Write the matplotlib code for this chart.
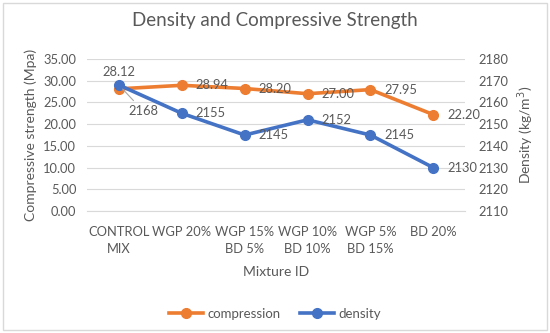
import matplotlib
matplotlib.use('Agg')
import matplotlib.pyplot as plt
from matplotlib.patches import Rectangle

plt.rcParams['font.family'] = ['Lato', 'DejaVu Sans']

#data
mixtures = ['CONTROL\nMIX', 'WGP 20%', 'WGP 15%\nBD 5%', 'WGP 10%\nBD 10%', 'WGP 5%\nBD 15%', 'BD 20%']
compression = [28.12, 28.94, 28.20, 27.00, 27.95, 22.20]
density = [2168, 2155, 2145, 2152, 2145, 2130]
left_ticks = [0, 5, 10, 15, 20, 25, 30, 35]
right_ticks = [2110, 2120, 2130, 2140, 2150, 2160, 2170, 2180]

orange = '#ED7D31'
blue = '#4472C4'
txt = '#595959'
grid = '#D9D9D9'
fs = 9.3

fig = plt.figure(figsize=(5.5, 3.33), dpi=100)
ax = fig.add_axes([0.159, 0.366, 0.686, 0.457])
ax2 = ax.twinx()

x = list(range(len(mixtures)))

#compression on left axis
l1, = ax.plot(x, compression, color=orange, lw=2.6, marker='o', ms=7, label='compression', zorder=3)
#density on right axis
l2, = ax2.plot(x, density, color=blue, lw=2.6, marker='o', ms=7, label='density', zorder=3)

ax.set_xlim(-0.5, len(mixtures) - 0.5)
ax.set_ylim(0, 35)
ax2.set_ylim(2110, 2180)
ax.set_yticks(left_ticks)
ax.set_yticklabels(['%.2f' % v for v in left_ticks])
ax2.set_yticks(right_ticks)
ax.set_xticks(x)
ax.set_xticklabels(mixtures, linespacing=1.45)

ax.grid(axis='y', color=grid, lw=0.8)
ax.set_axisbelow(True)
for a in (ax, ax2):
    for s in a.spines.values():
        s.set_visible(False)
    a.tick_params(length=0, colors=txt, labelsize=fs)
ax.spines['bottom'].set_visible(True)
ax.spines['bottom'].set_color(grid)
ax.tick_params(axis='x', pad=11)
ax.tick_params(axis='y', pad=8)
ax2.tick_params(axis='y', pad=10)

ax.set_xlabel('Mixture ID', color=txt, fontsize=10, labelpad=8)
ax.set_ylabel('Compressive strength (Mpa)', color=txt, fontsize=10)
ax2.set_ylabel('Density (kg/m$^3$)', color=txt, fontsize=10)
ax.yaxis.set_label_coords(-0.134, 0.5)
ax2.yaxis.set_label_coords(1.134, 0.5)

fig.suptitle('Density and Compressive Strength', x=0.5, y=0.965, color=txt, fontsize=13.5)

#data labels
for i, v in enumerate(compression):
    if i == 0:
        ax.annotate('%.2f' % v, (i, v), xytext=(0, 8), textcoords='offset points',
                    ha='center', va='bottom', color=txt, fontsize=fs)
    else:
        ax.annotate('%.2f' % v, (i, v), xytext=(10, 0), textcoords='offset points',
                    ha='left', va='center', color=txt, fontsize=fs)
for i, v in enumerate(density):
    if i == 0:
        ax2.annotate(str(v), (i, v), xytext=(7, -19), textcoords='offset points',
                     ha='left', va='center', color=txt, fontsize=fs,
                     arrowprops=dict(arrowstyle='-', color='#A6A6A6', lw=0.8,
                                     shrinkA=2, shrinkB=4))
    else:
        ax2.annotate(str(v), (i, v), xytext=(10, 0), textcoords='offset points',
                     ha='left', va='center', color=txt, fontsize=fs)

fig.legend(handles=[l1, l2], loc='center', bbox_to_anchor=(0.5, 0.057), ncol=2,
           frameon=False, fontsize=9.5, labelcolor=txt, handlelength=2.6,
           columnspacing=1.5, handletextpad=0.3)

#light border round the chart
fig.patches.append(Rectangle((0.006, 0.008), 0.988, 0.984, transform=fig.transFigure,
                             fill=False, edgecolor='#D9D9D9', lw=1))

fig.savefig('out.png', dpi=100)
